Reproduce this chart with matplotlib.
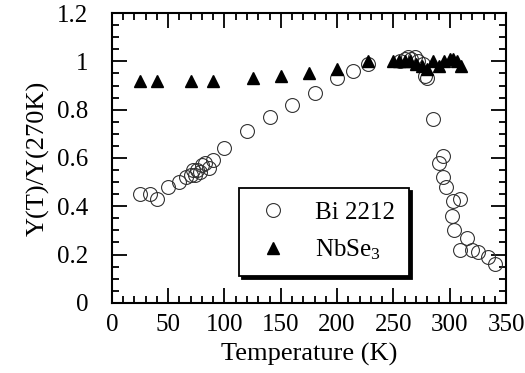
import matplotlib
matplotlib.use('Agg')
import matplotlib.pyplot as plt
from matplotlib.ticker import MultipleLocator

plt.rcParams['font.family'] = ['Liberation Serif', 'DejaVu Serif']
plt.rcParams['mathtext.fontset'] = 'custom'
plt.rcParams['mathtext.rm'] = 'Liberation Serif'
plt.rcParams['mathtext.default'] = 'regular'

# Bi 2212 (open circles)
bi_T = [25, 34, 40, 50, 60, 66, 70, 72, 74, 76, 78, 80, 83, 86, 90, 100,
        120, 140, 160, 180, 200, 214, 227, 256, 260, 263, 266, 269, 272, 276,
        278, 280, 285, 290, 294, 294, 297, 302, 303, 304, 309, 309, 315, 320,
        325, 334, 340]
bi_Y = [0.45, 0.45, 0.43, 0.48, 0.50, 0.52, 0.53, 0.55, 0.53, 0.55, 0.54, 0.57, 0.58, 0.56, 0.59, 0.64,
        0.71, 0.77, 0.82, 0.87, 0.93, 0.96, 0.99, 1.00, 1.01, 1.02, 1.01, 1.02, 1.00, 0.99,
        0.94, 0.93, 0.76, 0.58, 0.61, 0.52, 0.48, 0.36, 0.42, 0.30, 0.43, 0.22, 0.27, 0.22,
        0.21, 0.19, 0.16]

# NbSe3 (filled triangles)
nb_T = [25, 40, 70, 90, 125, 150, 175, 200, 227, 250, 255, 260, 265, 270,
        275, 280, 285, 290, 295, 300, 303, 306, 310]
nb_Y = [0.92, 0.92, 0.92, 0.92, 0.93, 0.94, 0.95, 0.97, 1.00, 1.00, 1.00, 1.00, 1.00, 0.99,
        0.98, 0.97, 1.00, 0.98, 1.00, 1.01, 1.01, 1.00, 0.98]

fig = plt.figure(figsize=(5.25, 3.73), dpi=100)
ax = fig.add_axes([0.213, 0.188, 0.751, 0.777])

ax.plot(bi_T, bi_Y, 'o', ms=10, mfc='none', mec='#333333', mew=0.8, label='Bi 2212')
ax.plot(nb_T, nb_Y, '^', ms=8, color='black', label=r'NbSe$_3$')

ax.set_xlim(0, 350)
ax.set_ylim(0, 1.2)
ax.xaxis.set_major_locator(MultipleLocator(50))
ax.xaxis.set_minor_locator(MultipleLocator(10))
ax.yaxis.set_major_locator(MultipleLocator(0.2))
ax.yaxis.set_minor_locator(MultipleLocator(0.05))
ax.set_yticks([0, 0.2, 0.4, 0.6, 0.8, 1.0, 1.2])
ax.set_yticklabels(['0', '0.2', '0.4', '0.6', '0.8', '1', '1.2'])

ax.tick_params(which='both', direction='in', top=True, right=True, width=1.3,
               labelsize=18)
ax.tick_params(which='major', length=11)
ax.tick_params(which='minor', length=5)
ax.tick_params(axis='y', which='major', pad=17)
ax.tick_params(axis='x', which='major', pad=8)
for s in ax.spines.values():
    s.set_linewidth(1.5)

ax.set_xlabel('Temperature (K)', fontsize=19, labelpad=5)
ax.set_ylabel('Y(T)/Y(270K)', fontsize=19, labelpad=5)

leg = ax.legend(loc='upper left', bbox_to_anchor=(0.322, 0.397), fontsize=18,
                frameon=True, fancybox=False, edgecolor='black',
                shadow={'color': 'black', 'alpha': 1}, borderpad=0.55,
                handletextpad=0.9, labelspacing=0.55, handlelength=1.6,
                borderaxespad=0)
leg.get_frame().set_linewidth(1.3)

fig.savefig('out.png', dpi=100)
